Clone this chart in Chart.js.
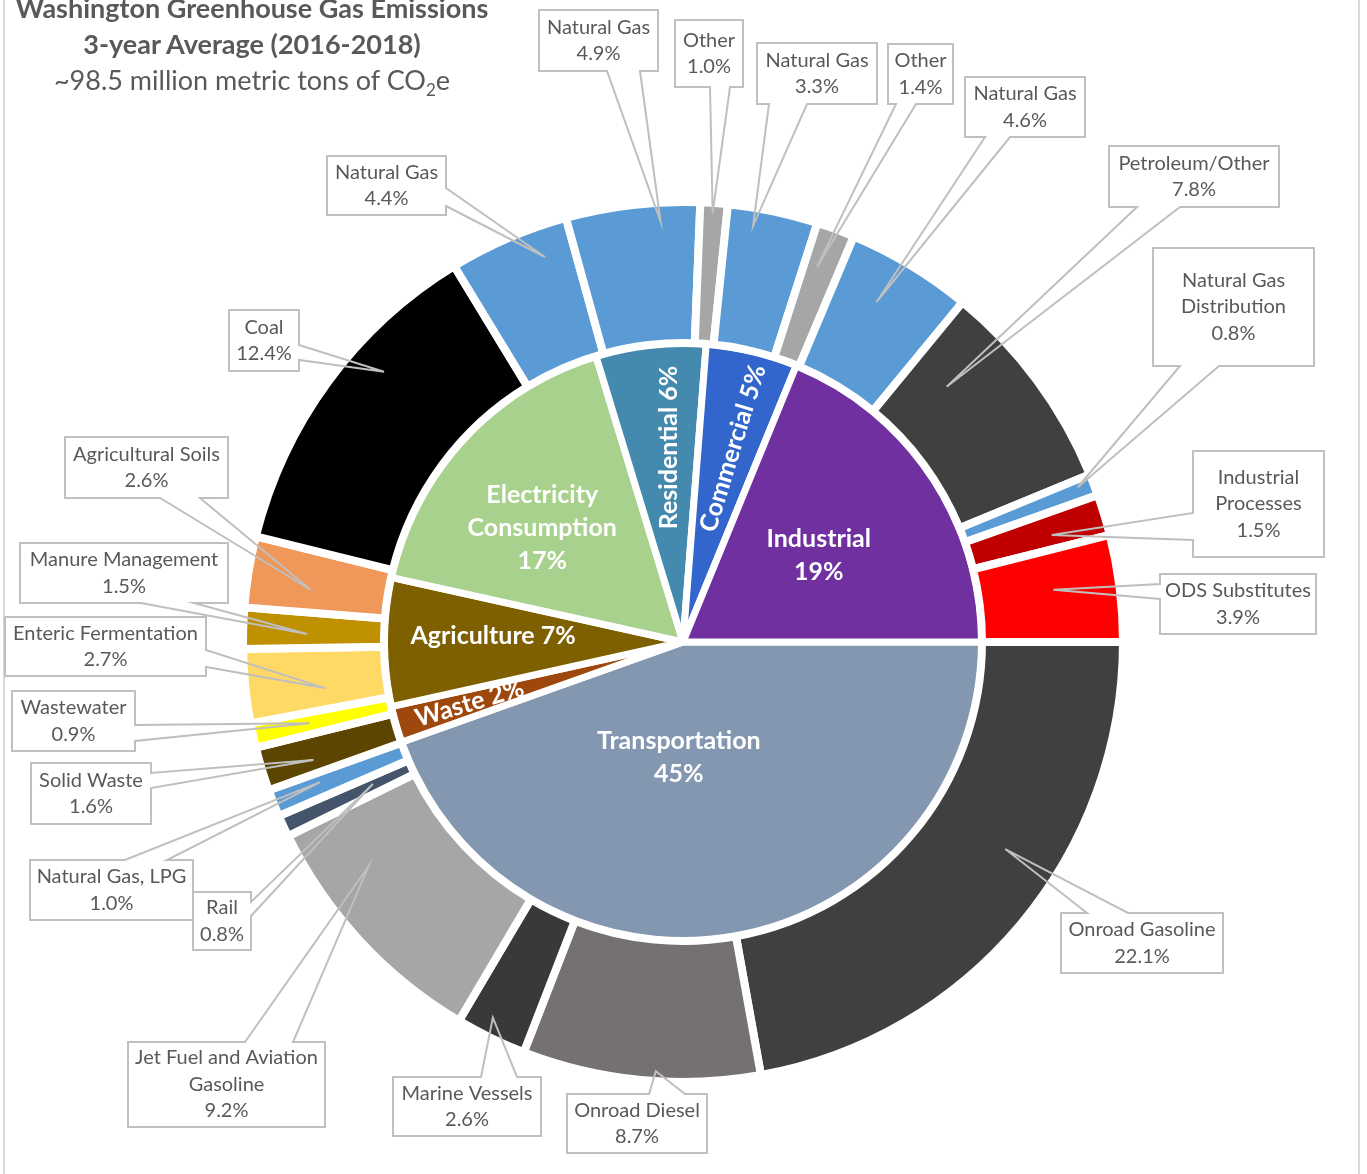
<!DOCTYPE html>
<html>
<head>
<meta charset="utf-8">
<title>Washington Greenhouse Gas Emissions</title>
<script src="https://cdn.jsdelivr.net/npm/chart.js@4.4.1/dist/chart.umd.min.js"></script>
<style>
  html, body { margin: 0; padding: 0; background: #fff; }
  #wrap { position: relative; width: 1367px; height: 1174px; overflow: hidden; }
  #frame { position: absolute; left: 3px; top: -5px; width: 1353px; height: 1200px;
           border-left: 2px solid #d9d9d9; border-right: 2px solid #d9d9d9; }
  canvas { position: absolute; left: 0; top: 0; }
  .title { position: absolute; left: 0; width: 504px; text-align: center; color: #595959;
           font-family: Lato, "Open Sans", sans-serif; font-size: 27px; line-height: 30px; white-space: nowrap; }
  .title b { font-weight: 700; }
  .title sub { font-size: 17px; line-height: 0; vertical-align: -6px; }
</style>
</head>
<body>
<div id="wrap">
  <div id="frame"></div>
  <canvas id="ghgChart" width="1367" height="1174"></canvas>
  <div class="title" style="top:-7px"><b>Washington Greenhouse Gas Emissions</b></div>
  <div class="title" style="top:29px"><b>3-year Average (2016-2018)</b></div>
  <div class="title" style="top:65px">~98.5 million metric tons of CO<sub>2</sub>e</div>
</div>
<script>
// Inner ring: sectors (percent of total)
const sectors = ['Transportation', 'Waste', 'Agriculture', 'Electricity Consumption', 'Residential', 'Commercial', 'Industrial'];
const sectorShares = [45, 2, 7, 17, 6, 5, 19];

// Outer ring: sources (percent of total), same clockwise order
const sources = [
  'Onroad Gasoline', 'Onroad Diesel', 'Marine Vessels', 'Jet Fuel and Aviation Gasoline', 'Rail', 'Natural Gas, LPG',
  'Solid Waste', 'Wastewater',
  'Enteric Fermentation', 'Manure Management', 'Agricultural Soils',
  'Coal', 'Natural Gas',
  'Natural Gas', 'Other',
  'Natural Gas', 'Other',
  'Natural Gas', 'Petroleum/Other', 'Natural Gas Distribution', 'Industrial Processes', 'ODS Substitutes'
];
const sourceShares = [22.1, 8.7, 2.6, 9.2, 0.8, 1.0, 1.6, 0.9, 2.7, 1.5, 2.6, 12.4, 4.4, 4.9, 1.0, 3.3, 1.4, 4.6, 7.8, 0.8, 1.5, 3.9];

// Colours
const sectorColors = ['#8497b0', '#9e480e', '#7f6000', '#a9d18e', '#438aae', '#3366cc', '#7030a0'];
const sourceColors = [
  '#404040', '#767171', '#3a3838', '#a6a6a6', '#44546a', '#5b9bd5',
  '#5c4500', '#ffff00',
  '#ffd966', '#bf9000', '#f0985a',
  '#000000', '#5b9bd5',
  '#5b9bd5', '#a6a6a6',
  '#5b9bd5', '#a6a6a6',
  '#5b9bd5', '#404040', '#5b9bd5', '#c00000', '#ff0000'
];

// Inner label placement: [fraction along slice, radius, rotation deg, stacked]
const sectorLabelLayout = [
  [0.574, 116, 0, true],
  [0.5, 222, -16.5, false],
  [0.57, 190, 0, false],
  [0.437, 181, 0, true],
  [0.6, 195, -90, false],
  [0.56, 200, -73, false],
  [0.52, 161, 0, true]
];

// Callout boxes: box [x, y, w, h], side of wedge, wedge base offsets, tip fraction + radius, words on first line
const calloutLayout = [
  { box: [1061, 913, 162, 60], side: 't', o: [26, 67], t: 0.41, r: 383 },
  { box: [567, 1094, 140, 59], side: 't', o: [82, 118], t: 0.44, r: 430 },
  { box: [393, 1077, 148, 59], side: 't', o: [88, 124], t: 0.6, r: 421 },
  { box: [128, 1042, 197, 85], side: 't', o: [117, 165], t: 0.72, r: 386, split: 4 },
  { box: [193, 892, 58, 58], side: 'r', o: [10, 24], t: 0.55, r: 341 },
  { box: [30, 860, 163, 60], side: 't', o: [95, 137], t: 0.6, r: 389 },
  { box: [31, 763, 120, 61], side: 'r', o: [10, 25], t: 0.34, r: 388 },
  { box: [12, 691, 123, 60], side: 'r', o: [34, 50], t: 0.5, r: 382 },
  { box: [5, 617, 201, 59], side: 'r', o: [33, 50], t: 0.34, r: 361 },
  { box: [20, 543, 208, 60], side: 'b', o: [121, 174], t: 0.39, r: 376 },
  { box: [65, 437, 163, 61], side: 'b', o: [95, 135], t: 0.37, r: 376 },
  { box: [229, 310, 70, 61], side: 'r', o: [35, 50], t: 0.63, r: 403 },
  { box: [327, 156, 119, 59], side: 'r', o: [32, 50], t: 0.73, r: 409 },
  { box: [539, 10, 119, 61], side: 'b', o: [68, 101], t: 0.7, r: 421 },
  { box: [675, 20, 68, 67], side: 'b', o: [35, 55], t: 0.47, r: 430 },
  { box: [757, 43, 120, 61], side: 'b', o: [12, 50], t: 0.31, r: 422 },
  { box: [888, 44, 65, 60], side: 'b', o: [8, 28], t: 0.37, r: 398 },
  { box: [965, 77, 120, 60], side: 'b', o: [20, 45], t: 0.41, r: 391 },
  { box: [1109, 146, 170, 61], side: 'b', o: [28, 71], t: 0.23, r: 367 },
  { box: [1153, 248, 161, 118], side: 'b', o: [27, 66], t: 0.34, r: 424, split: 2 },
  { box: [1193, 451, 131, 106], side: 'l', o: [62, 89], t: 0.61, r: 384, split: 1 },
  { box: [1160, 574, 156, 60], side: 'l', o: [10, 25], t: 0.43, r: 374 }
];

function pointOnArc(arc, t, r) {
  const a = arc.startAngle + t * (arc.endAngle - arc.startAngle);
  return { x: arc.x + r * Math.cos(a), y: arc.y + r * Math.sin(a) };
}

function calloutPath(ctx, box, side, o, tip) {
  const [x, y, w, h] = box;
  let pts;
  if (side === 't') {
    pts = [[x, y], [x + o[0], y], [tip.x, tip.y], [x + o[1], y], [x + w, y], [x + w, y + h], [x, y + h]];
  } else if (side === 'r') {
    pts = [[x, y], [x + w, y], [x + w, y + o[0]], [tip.x, tip.y], [x + w, y + o[1]], [x + w, y + h], [x, y + h]];
  } else if (side === 'b') {
    pts = [[x, y], [x + w, y], [x + w, y + h], [x + o[1], y + h], [tip.x, tip.y], [x + o[0], y + h], [x, y + h]];
  } else {
    pts = [[x, y], [x + w, y], [x + w, y + h], [x, y + h], [x, y + o[1]], [tip.x, tip.y], [x, y + o[0]]];
  }
  ctx.beginPath();
  pts.forEach((p, i) => (i ? ctx.lineTo(p[0], p[1]) : ctx.moveTo(p[0], p[1])));
  ctx.closePath();
}

const labelPlugin = {
  id: 'ghgLabels',
  afterDatasetsDraw(chart) {
    const ctx = chart.ctx;

    // Sector labels inside the pie
    chart.getDatasetMeta(1).data.forEach((arc, i) => {
      const [t, r, rot, stacked] = sectorLabelLayout[i];
      const p = pointOnArc(arc, t, r);
      const pct = sectorShares[i] + '%';
      const lines = stacked ? [...sectors[i].split(' '), pct] : [sectors[i] + ' ' + pct];
      ctx.save();
      ctx.translate(p.x, p.y);
      ctx.rotate(rot * Math.PI / 180);
      ctx.font = 'bold 25px Lato, sans-serif';
      ctx.fillStyle = '#ffffff';
      ctx.textAlign = 'center';
      ctx.textBaseline = 'middle';
      lines.forEach((ln, k) => ctx.fillText(ln, 0, (k - (lines.length - 1) / 2) * 33));
      ctx.restore();
    });

    // Callouts for the outer ring
    chart.getDatasetMeta(0).data.forEach((arc, i) => {
      const c = calloutLayout[i];
      const tip = pointOnArc(arc, c.t, c.r);
      const [x, y, w, h] = c.box;
      ctx.save();
      ctx.fillStyle = '#ffffff';
      ctx.fillRect(x, y, w, h);
      calloutPath(ctx, c.box, c.side, c.o, tip);
      ctx.lineWidth = 2;
      ctx.strokeStyle = '#bfbfbf';
      ctx.lineJoin = 'miter';
      ctx.stroke();

      const words = sources[i].split(' ');
      const lines = c.split ? [words.slice(0, c.split).join(' '), words.slice(c.split).join(' ')] : [sources[i]];
      lines.push(sourceShares[i].toFixed(1) + '%');
      ctx.font = '20px Lato, sans-serif';
      ctx.fillStyle = '#595959';
      ctx.textAlign = 'center';
      ctx.textBaseline = 'middle';
      lines.forEach((ln, k) => ctx.fillText(ln, x + w / 2, y + h / 2 + (k - (lines.length - 1) / 2) * 26.5));
      ctx.restore();
    });
  }
};

const chartCtx = document.getElementById('ghgChart').getContext('2d');
new Chart(chartCtx, {
  type: 'pie',
  data: {
    labels: sources,
    datasets: [
      {
        label: 'Source',
        data: sourceShares,
        backgroundColor: sourceColors,
        borderColor: '#ffffff',
        borderWidth: 8,
        weight: 141,
      },
      {
        label: 'Sector',
        data: sectorShares,
        backgroundColor: sectorColors,
        borderColor: '#ffffff',
        borderWidth: 7,
        weight: 299,
      },
    ],
  },
  options: {
    responsive: false,
    devicePixelRatio: 1,
    animation: false,
    events: [],
    rotation: 90, // start at 3 o'clock like the Excel original
    radius: 440,
    layout: { padding: { top: 110, left: 0, right: 1, bottom: 0 } },
    plugins: {
      legend: { display: false },
      tooltip: { enabled: false },
    },
  },
  plugins: [labelPlugin],
});
</script>
</body>
</html>
